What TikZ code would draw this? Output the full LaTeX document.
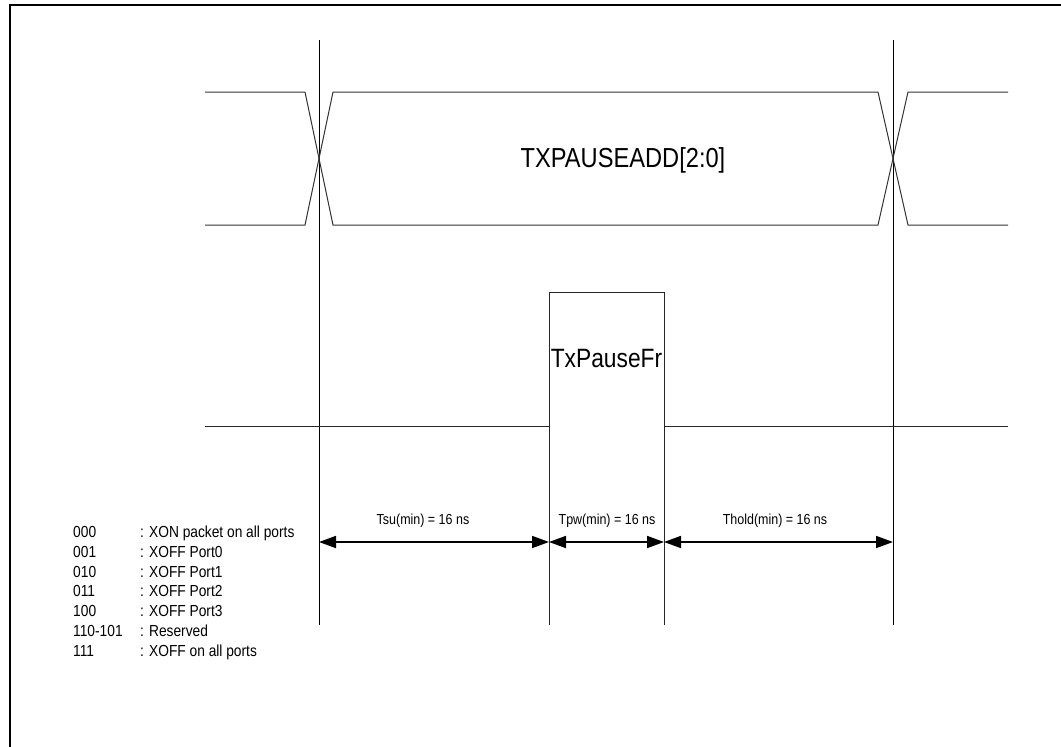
\documentclass[tikz,border=0pt]{standalone}
\usepackage{fontspec}
\setmainfont{Liberation Sans}[FakeStretch=0.86]
\usetikzlibrary{arrows.meta}
\begin{document}
\begin{tikzpicture}[x=1pt,y=-1pt,
  frame/.style={line width=2pt,line cap=rect},
  bus/.style={line width=1pt,black!80},
  sig/.style={line width=0.9pt,black!85},
  marker/.style={line width=0.9pt,black},
  dim/.style={line width=1.8pt,{Triangle[length=17pt,width=12pt]}-{Triangle[length=17pt,width=12pt]},shorten <=0pt,shorten >=0pt},
  dimlabel/.style={inner sep=0pt,anchor=base,font=\fontsize{14.5}{16}\selectfont},
  leg/.style={inner sep=0pt,anchor=base west,font=\fontsize{16}{18}\selectfont}]
\useasboundingbox (0,0) rectangle (1061,747);
% frame
\draw[frame] (10,747) -- (10,5) -- (1061,5);
% named edge coordinates
\coordinate (l1t) at (319,40);  \coordinate (l1b) at (319,625);
\coordinate (l4t) at (893,40);  \coordinate (l4b) at (893,625);
\coordinate (p1t) at (549,292); \coordinate (p1b) at (549,625);
\coordinate (p2t) at (664,292); \coordinate (p2b) at (664,625);
% marker lines
\draw[marker] (l1t) -- (l1b);
\draw[marker] (l4t) -- (l4b);
% bus
\draw[bus] (205,92) -- (305,92) -- (333,225) -- (878,225) -- (908,92) -- (1008,92);
\draw[bus] (205,225) -- (305,225) -- (333,92) -- (878,92) -- (908,225) -- (1008,225);
\node[inner sep=0pt,anchor=base,font=\fontsize{27.5}{30}\selectfont] (bus) at (623,167) {TXPAUSEADD[2:0]};
% pulse
\draw[sig] (205,426) -- (549,426) -- (p1t) -- (p2t) -- (664,426) -- (1008,426);
\draw[sig] (p1t) -- (p1b);
\draw[sig] (p2t) -- (p2b);
\node[inner sep=0pt,anchor=base,font=\fontsize{26.5}{28}\selectfont] (pulse) at (606.5,367) {TxPauseFr};
% dimension arrows
\coordinate (a1) at (319,542);
\coordinate (a2) at (549,542);
\coordinate (a3) at (664,542);
\coordinate (a4) at (893,542);
\draw[dim] (a1) -- (a2);
\draw[dim] (a2) -- (a3);
\draw[dim] (a3) -- (a4);
\node[dimlabel] (tsu) at (423,524) {Tsu(min) = 16 ns};
\node[dimlabel] (tpw) at (607,524) {Tpw(min) = 16 ns};
\node[dimlabel] (thold) at (775,524) {Thold(min) = 16 ns};
% legend
\foreach \c/\d [count=\i from 0] in {000/{: XON packet on all ports},001/{: XOFF Port0},010/{: XOFF Port1},011/{: XOFF Port2},100/{: XOFF Port3},110-101/{: Reserved},111/{: XOFF on all ports}}{
  \node[leg] (code\i) at (73,537.5+19.8*\i) {\c};
  \node[leg] (desc\i) at (140,537.5+19.8*\i) {\d};
}
\end{tikzpicture}
\end{document}
